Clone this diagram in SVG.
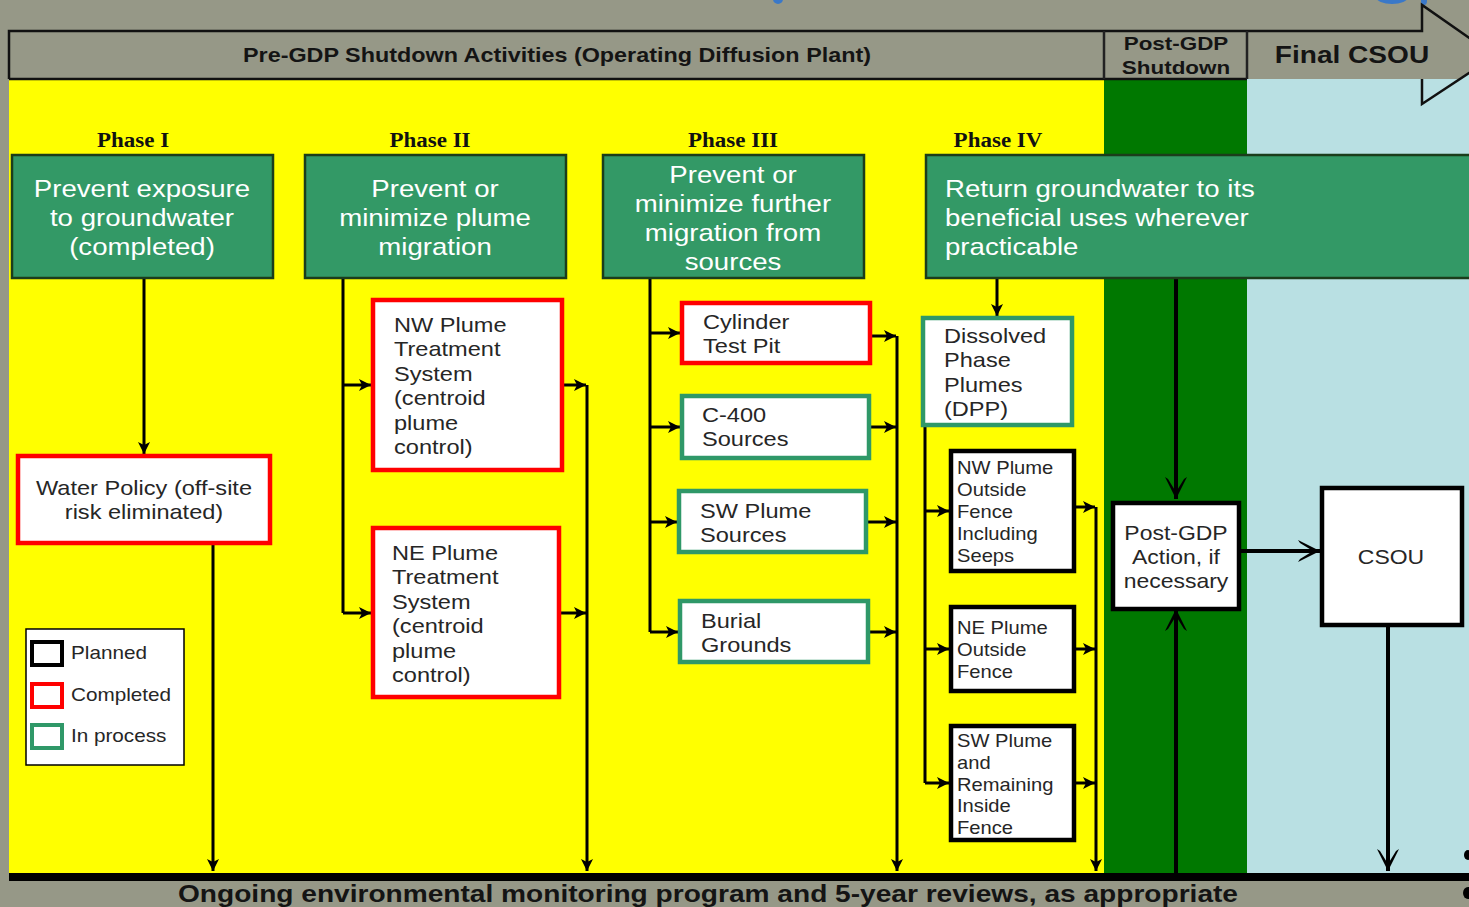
<svg xmlns="http://www.w3.org/2000/svg" width="1469" height="907" viewBox="0 0 1469 907">
<defs>
<style>
.sans{font-family:"Liberation Sans",Arial,sans-serif}
.hd{font-family:"Liberation Sans",Arial,sans-serif;font-weight:bold;fill:#141414}
.ph{font-family:"Liberation Serif","Times New Roman",serif;font-weight:bold;font-size:20px;fill:#111}
.gbox{fill:#339966;stroke:#1b3d1b;stroke-width:2.5}
.gtx{font-family:"Liberation Sans",Arial,sans-serif;font-size:24px;fill:#fff}
.red{fill:#fff;stroke:#ff0000;stroke-width:4.5}
.grn{fill:#fff;stroke:#2f9868;stroke-width:4.5}
.blk{fill:#fff;stroke:#000;stroke-width:4.5}
.bt{font-family:"Liberation Sans",Arial,sans-serif;font-size:20.5px;fill:#262626}
.st{font-family:"Liberation Sans",Arial,sans-serif;font-size:18px;fill:#262626}
.conn path{fill:none;stroke:#000;stroke-width:3}
.conn path.big{stroke-width:4}
</style>
<marker id="ah" markerUnits="userSpaceOnUse" markerWidth="14" markerHeight="14" refX="12" refY="6" orient="auto">
<path d="M0,0 L12,6 L0,12 L3,6 z" fill="#000"/>
</marker>
<marker id="ahb" markerUnits="userSpaceOnUse" markerWidth="26" markerHeight="26" refX="22" refY="11" orient="auto">
<path d="M0,0 L22,11 L0,22 L2,19 L15,11 L2,3 z" fill="#000"/>
</marker>
</defs>

<!-- background -->
<rect x="0" y="0" width="1469" height="907" fill="#969887"/>
<ellipse cx="778" cy="-1" rx="5" ry="5" fill="#3a78c8"/>
<ellipse cx="1392" cy="-3" rx="16" ry="7" fill="#3a78c8"/>
<ellipse cx="1424" cy="1" rx="3" ry="4" fill="#3a78c8"/>

<!-- regions -->
<rect x="9" y="79" width="1095" height="794" fill="#ffff00"/>
<rect x="1104" y="79" width="143" height="794" fill="#007800"/>
<rect x="1247" y="79" width="222" height="794" fill="#b9e0e3"/>
<polygon points="1422,79 1469,79 1469,71 1422,104" fill="#b9e0e3"/>

<!-- header arrow -->
<g id="header">
<rect x="9" y="31" width="1413" height="48" fill="#969887"/>
<polygon points="1422,5 1495,56 1422,104 1422,79 1247,79 1247,31 1422,31" fill="#969887"/>
<polygon points="1422,79 1469,79 1469,72 1422,104" fill="#b9e0e3"/>
<path d="M9,79 V31 H1422 V5 L1495,56 L1422,104 V79" fill="none" stroke="#111" stroke-width="2.5"/>
<path d="M9,79 H1247" stroke="#111" stroke-width="2.5"/>
<path d="M1104,31 V79 M1247,31 V79" stroke="#222" stroke-width="2.5"/>
<text class="hd" x="557" y="62" font-size="21" text-anchor="middle" textLength="628" lengthAdjust="spacingAndGlyphs">Pre-GDP Shutdown Activities (Operating Diffusion Plant)</text>
<text class="hd" font-size="19" text-anchor="middle" transform="translate(1176,50) scale(1.18,1)"><tspan x="0" y="0">Post-GDP</tspan><tspan x="0" y="24">Shutdown</tspan></text>
<text class="hd" font-size="24" text-anchor="middle" transform="translate(1352,63) scale(1.17,1)">Final CSOU</text>
</g>

<!-- bottom bar -->
<g id="monitoring">
<rect x="9" y="873" width="1460" height="8" fill="#000"/>
<text class="hd" x="708" y="902" font-size="24" text-anchor="middle" textLength="1060" lengthAdjust="spacingAndGlyphs">Ongoing environmental monitoring program and 5-year reviews, as appropriate</text>
</g>
<ellipse cx="1468" cy="855" rx="4" ry="5" fill="#000"/>
<ellipse cx="1468" cy="893" rx="5" ry="6" fill="#000"/>

<!-- phase labels -->
<g id="phase-labels">
<text class="ph" text-anchor="middle" transform="translate(133,147) scale(1.15,1)">Phase I</text>
<text class="ph" text-anchor="middle" transform="translate(430,147) scale(1.15,1)">Phase II</text>
<text class="ph" text-anchor="middle" transform="translate(733,147) scale(1.15,1)">Phase III</text>
<text class="ph" text-anchor="middle" transform="translate(998,147) scale(1.15,1)">Phase IV</text>
</g>

<!-- connectors -->
<g id="connectors" class="conn">
<path d="M144,278 V454" marker-end="url(#ah)"/>
<path d="M213,543 V871" marker-end="url(#ah)"/>
<path d="M343,278 V613"/>
<path d="M343,385 H371" marker-end="url(#ah)"/>
<path d="M343,613 H371" marker-end="url(#ah)"/>
<path d="M562,385 H586" marker-end="url(#ah)"/>
<path d="M559,613 H586" marker-end="url(#ah)"/>
<path d="M587,385 V871" marker-end="url(#ah)"/>
<path d="M650,278 V632"/>
<path d="M650,333 H680" marker-end="url(#ah)"/>
<path d="M650,427 H680" marker-end="url(#ah)"/>
<path d="M650,522 H677" marker-end="url(#ah)"/>
<path d="M650,632 H678" marker-end="url(#ah)"/>
<path d="M870,336 H896" marker-end="url(#ah)"/>
<path d="M869,427 H896" marker-end="url(#ah)"/>
<path d="M866,522 H896" marker-end="url(#ah)"/>
<path d="M868,632 H896" marker-end="url(#ah)"/>
<path d="M897,336 V871" marker-end="url(#ah)"/>
<path d="M997,278 V316" marker-end="url(#ah)"/>
<path d="M925,425 V783"/>
<path d="M925,511 H949" marker-end="url(#ah)"/>
<path d="M925,649 H949" marker-end="url(#ah)"/>
<path d="M925,783 H949" marker-end="url(#ah)"/>
<path d="M1074,507 H1095" marker-end="url(#ah)"/>
<path d="M1074,649 H1095" marker-end="url(#ah)"/>
<path d="M1074,783 H1095" marker-end="url(#ah)"/>
<path d="M1096,507 V871" marker-end="url(#ah)"/>
<path class="big" d="M1176,278 V499" marker-end="url(#ahb)"/>
<path class="big" d="M1176,873 V609" marker-end="url(#ahb)"/>
<path class="big" d="M1239,551 H1320" marker-end="url(#ahb)"/>
<path class="big" d="M1388,625 V871" marker-end="url(#ahb)"/>
</g>

<!-- phase goal boxes -->
<g id="phase1-goal">
<rect class="gbox" x="12" y="155" width="261" height="123"/>
<text class="gtx" text-anchor="middle" transform="translate(142,197) scale(1.15,1)"><tspan x="0" y="0">Prevent exposure</tspan><tspan x="0" y="29">to groundwater</tspan><tspan x="0" y="58">(completed)</tspan></text>
</g>
<g id="phase2-goal">
<rect class="gbox" x="305" y="155" width="261" height="123"/>
<text class="gtx" text-anchor="middle" transform="translate(435,197) scale(1.15,1)"><tspan x="0" y="0">Prevent or</tspan><tspan x="0" y="29">minimize plume</tspan><tspan x="0" y="58">migration</tspan></text>
</g>
<g id="phase3-goal">
<rect class="gbox" x="603" y="155" width="261" height="123"/>
<text class="gtx" text-anchor="middle" transform="translate(733,183) scale(1.15,1)"><tspan x="0" y="0">Prevent or</tspan><tspan x="0" y="29">minimize further</tspan><tspan x="0" y="58">migration from</tspan><tspan x="0" y="87">sources</tspan></text>
</g>
<g id="phase4-goal">
<rect class="gbox" x="926" y="155" width="560" height="123"/>
<text class="gtx" transform="translate(945,197) scale(1.15,1)"><tspan x="0" y="0">Return groundwater to its</tspan><tspan x="0" y="29">beneficial uses wherever</tspan><tspan x="0" y="58">practicable</tspan></text>
</g>

<!-- Phase I -->
<g id="water-policy">
<rect class="red" x="18" y="456" width="252" height="87"/>
<text class="bt" font-size="20" text-anchor="middle" transform="translate(144,495) scale(1.15,1)"><tspan x="0" y="0">Water Policy (off-site</tspan><tspan x="0" y="24">risk eliminated)</tspan></text>
</g>

<!-- legend -->
<g id="legend">
<rect x="26" y="629" width="158" height="136" fill="#fff" stroke="#000" stroke-width="1.5"/>
<rect x="32" y="642" width="30" height="23" fill="#fff" stroke="#000" stroke-width="4"/>
<rect x="32" y="684" width="30" height="23" fill="#fff" stroke="#ff0000" stroke-width="4"/>
<rect x="32" y="725" width="30" height="23" fill="#fff" stroke="#2f9868" stroke-width="4"/>
<text class="st" transform="translate(71,659) scale(1.15,1)">Planned</text>
<text class="st" transform="translate(71,701) scale(1.15,1)">Completed</text>
<text class="st" transform="translate(71,742) scale(1.15,1)">In process</text>
</g>

<!-- Phase II -->
<g id="nw-plume-treatment">
<rect class="red" x="373" y="300" width="189" height="170"/>
<text class="bt" transform="translate(394,332) scale(1.15,1)"><tspan x="0" y="0">NW Plume</tspan><tspan x="0" y="24.5">Treatment</tspan><tspan x="0" y="49">System</tspan><tspan x="0" y="73.5">(centroid</tspan><tspan x="0" y="98">plume</tspan><tspan x="0" y="122.5">control)</tspan></text>
</g>
<g id="ne-plume-treatment">
<rect class="red" x="373" y="528" width="186" height="169"/>
<text class="bt" transform="translate(392,560) scale(1.15,1)"><tspan x="0" y="0">NE Plume</tspan><tspan x="0" y="24.5">Treatment</tspan><tspan x="0" y="49">System</tspan><tspan x="0" y="73.5">(centroid</tspan><tspan x="0" y="98">plume</tspan><tspan x="0" y="122.5">control)</tspan></text>
</g>

<!-- Phase III -->
<g id="cylinder-test-pit">
<rect class="red" x="682" y="303" width="188" height="60"/>
<text class="bt" transform="translate(703,329) scale(1.15,1)"><tspan x="0" y="0">Cylinder</tspan><tspan x="0" y="24">Test Pit</tspan></text>
</g>
<g id="c400-sources">
<rect class="grn" x="682" y="396" width="187" height="62"/>
<text class="bt" transform="translate(702,422) scale(1.15,1)"><tspan x="0" y="0">C-400</tspan><tspan x="0" y="24">Sources</tspan></text>
</g>
<g id="sw-plume-sources">
<rect class="grn" x="679" y="491" width="187" height="61"/>
<text class="bt" transform="translate(700,518) scale(1.15,1)"><tspan x="0" y="0">SW Plume</tspan><tspan x="0" y="24">Sources</tspan></text>
</g>
<g id="burial-grounds">
<rect class="grn" x="680" y="601" width="188" height="61"/>
<text class="bt" transform="translate(701,628) scale(1.15,1)"><tspan x="0" y="0">Burial</tspan><tspan x="0" y="24">Grounds</tspan></text>
</g>

<!-- Phase IV -->
<g id="dpp">
<rect class="grn" x="923" y="318" width="149" height="107"/>
<text class="bt" font-size="20" transform="translate(944,343) scale(1.15,1)"><tspan x="0" y="0">Dissolved</tspan><tspan x="0" y="24.5">Phase</tspan><tspan x="0" y="49">Plumes</tspan><tspan x="0" y="73.5">(DPP)</tspan></text>
</g>
<g id="nw-plume-outside">
<rect class="blk" x="951" y="451" width="123" height="120"/>
<text class="st" transform="translate(957,474) scale(1.12,1)"><tspan x="0" y="0">NW Plume</tspan><tspan x="0" y="22">Outside</tspan><tspan x="0" y="44">Fence</tspan><tspan x="0" y="66">Including</tspan><tspan x="0" y="88">Seeps</tspan></text>
</g>
<g id="ne-plume-outside">
<rect class="blk" x="951" y="607" width="123" height="84"/>
<text class="st" transform="translate(957,634) scale(1.12,1)"><tspan x="0" y="0">NE Plume</tspan><tspan x="0" y="22">Outside</tspan><tspan x="0" y="44">Fence</tspan></text>
</g>
<g id="sw-plume-remaining">
<rect class="blk" x="951" y="726" width="123" height="114"/>
<text class="st" transform="translate(957,747) scale(1.12,1)"><tspan x="0" y="0">SW Plume</tspan><tspan x="0" y="22">and</tspan><tspan x="0" y="44">Remaining</tspan><tspan x="0" y="65">Inside</tspan><tspan x="0" y="87">Fence</tspan></text>
</g>

<!-- Post-GDP and CSOU -->
<g id="post-gdp-action">
<rect class="blk" x="1113" y="503" width="126" height="106"/>
<text class="bt" font-size="20" text-anchor="middle" transform="translate(1176,540) scale(1.12,1)"><tspan x="0" y="0">Post-GDP</tspan><tspan x="0" y="24">Action, if</tspan><tspan x="0" y="48">necessary</tspan></text>
</g>
<g id="csou">
<rect class="blk" x="1322" y="488" width="140" height="137"/>
<text class="bt" font-size="20" text-anchor="middle" transform="translate(1391,564) scale(1.12,1)">CSOU</text>
</g>
</svg>
